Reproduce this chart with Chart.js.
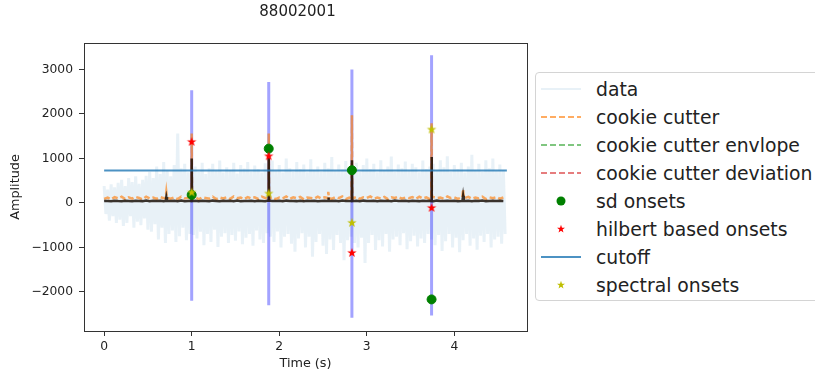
<!DOCTYPE html>
<html>
<head>
<meta charset="utf-8">
<script src="https://cdn.jsdelivr.net/npm/chart.js@4.4.1/dist/chart.umd.min.js"></script>
<style>
  html, body { margin: 0; padding: 0; background: #fff; }
  body { width: 815px; height: 379px; overflow: hidden; position: relative; font-family: 'DejaVu Sans', sans-serif; }
  #plot { position: absolute; left: 0; top: 0; }
  #legend { position: absolute; left: 535px; top: 72px; width: 300px; height: 229px; box-sizing: border-box;
            border: 1px solid #d4d4d4; border-radius: 4px; background: #fff; padding-top: 2px; }
  .item { height: 28px; display: flex; align-items: center; font-size: 18.8px; color: #222; white-space: nowrap; }
  .item svg { margin-left: 5px; margin-right: 15px; flex: none; }
</style>
</head>
<body>
<canvas id="plot" width="595" height="379"></canvas>
<div id="legend"></div>
<script>
// recording id and sampling of the envelope arrays below
const recordId = '88002001';
const gridStep = 0.04;

// upper / lower edge of the raw recording, one pair per grid step
const dataTop = [380, 300, 420, 350,
  450, 520, 380, 560, 470, 600, 430, 520, 610,
  700, 560, 820, 650, 920, 720, 600, 850, 1560, 780, 880, 690,
  760,
  820, 700, 900, 650, 780, 880, 720, 950, 680, 800, 740, 900, 660, 850, 770, 920, 700, 840, 760, 680, 890,
  800,
  950, 720, 850, 680, 1000, 780, 700, 920, 760, 860, 690, 980, 740, 820, 700, 900, 780, 1030, 720, 860, 750, 940, 680,
  800,
  900, 700, 850, 1000, 760, 880, 690, 960, 740, 820, 1040, 700, 860, 780, 930, 720, 880, 800, 690, 950, 760,
  820,
  880, 720, 960, 800, 1050, 700, 850, 760, 900, 680, 820, 1080, 740, 880, 700, 960, 780, 1000, 720, 860, 740];
const dataBottom = [-250, -400, -300, -450,
  -380, -520, -450, -300, -560, -420, -500, -350, -600,
  -650, -480, -820, -560, -900, -700, -620, -880, -750, -560, -840, -700,
  -720,
  -800, -650, -950, -700, -880, -600, -990, -760, -680, -900, -720, -850, -640, -930, -780, -700, -960, -620, -820, -900, -680,
  -760,
  -880, -640, -1000, -760, -700, -920, -1100, -800, -680, -1000, -760, -1210, -880, -700, -960, -1150, -820, -1060, -720, -900, -1290, -840, -760,
  -900,
  -1000, -780, -1350, -900, -720, -1060, -840, -980, -700, -1100, -820, -760, -950, -680, -1040, -860, -740, -980, -800, -900, -700,
  -820,
  -950, -720, -1080, -860, -700, -1000, -780, -1110, -840, -700, -960, -800, -1050, -740, -880, -700, -1000, -820, -760, -920, -700];

// cookie cutter output and rectified trace between the onsets
const cookieBase = [90, 120, 80, 130, 100, 140, 85, 125, 95, 135,
  110, 80, 140, 100, 120, 90, 130, 105, 115, 95,
  125, 85, 140, 100, 115, 90, 135, 80, 125, 110,
  95, 140, 85, 120, 100, 130, 90, 145, 105, 120,
  85, 130, 100, 125, 90, 140, 110, 95, 130, 85,
  120, 100, 145, 90, 125, 105, 135, 80, 120, 110,
  95, 140, 100, 125, 110, 90, 130, 105, 145, 85,
  120, 100, 135, 90, 125, 110, 145, 95, 120, 100,
  135, 85, 125, 110, 140, 95, 120, 105, 130, 90,
  140, 100, 125, 85, 130, 110, 120, 95, 145, 105,
  125, 90, 120, 110, 135, 95, 120, 100, 140, 85,
  125, 105, 130, 95, 120];
const traceBase = [40, 45, 35, 50, 42, 38, 48, 44, 36, 50,
  45, 40, 52, 38, 46, 42, 50, 36, 44, 44,
  48, 40, 52, 38, 45, 42, 50, 36, 47, 43,
  39, 51, 44, 37, 49, 42, 46, 40, 53, 38,
  45, 41, 50, 36, 48, 43, 39, 52, 44, 40,
  47, 38, 51, 43, 45, 40, 49, 37, 46, 42,
  50, 39, 44, 48, 45, 41, 46, 38, 52, 43,
  45, 40, 49, 37, 51, 44, 42, 47, 39, 50,
  43, 46, 38, 52, 41, 45, 48, 36, 50, 44,
  40, 49, 42, 47, 38, 51, 45, 41, 48, 43,
  46, 39, 44, 44, 50, 38, 47, 42, 52, 40,
  45, 48, 41, 46, 43];

// the four detected events
const onsetTimes = [1.0, 1.88, 2.83, 3.74];
const spikeTop = [2530, 2720, 3000, 3320];
const spikeBottom = [-2200, -2300, -2580, -2530];
const cookiePeaks = [1560, 1560, 1970, 1790];
const tracePeaks = [1000, 1030, 960, 1030];
const sdOnsets = [180, 1220, 735, -2170];
const hilbertOnsets = [1371, 1049, -1124, -112];
const spectralOnsets = [234, 211, -449, 1649];

// small bumps between the events
const bumpTimes = [0.71, 2.56, 4.1];
const cookieBumps = [250, 250, 310];
const traceBumps = [130, 120, 160];

const cutoffTimes = [0, 4.6];
const cutoffLevel = 728;

const xTicks = [0, 1, 2, 3, 4];
const yTicks = [-2000, -1000, 0, 1000, 2000, 3000];

const gridTimes = dataTop.map((_, i) => +(i * gridStep).toFixed(3));

// raw signal drawn as a zigzag between the upper and lower edge
const bandPoints = [];
gridTimes.forEach((t, i) => {
  bandPoints.push({ x: t, y: dataTop[i] }, { x: t + gridStep / 2, y: dataBottom[i] });
});

// base series with a narrow vertical peak at each given time
function withPeaks(base, groups) {
  const pts = gridTimes.map((t, i) => ({ x: t, y: base[i] }));
  groups.forEach(([times, peaks, half]) => {
    times.forEach((t, k) => {
      const near = base[Math.round(t / gridStep)];
      pts.push({ x: t - half, y: near }, { x: t, y: peaks[k] }, { x: t + half, y: near });
    });
  });
  return pts.sort((a, b) => a.x - b.x);
}

const spikePoints = [];
onsetTimes.forEach((t, k) => {
  spikePoints.push({ x: t, y: spikeTop[k] }, { x: t, y: spikeBottom[k] }, { x: t, y: null });
});

const markers = vals => onsetTimes.map((t, k) => ({ x: t, y: vals[k] }));

function starPath(cx, cy, R) {
  const pts = [];
  for (let k = 0; k < 10; k++) {
    const rad = k % 2 ? R * 0.4 : R;
    const a = -Math.PI / 2 + k * Math.PI / 5;
    pts.push([cx + rad * Math.cos(a), cy + rad * Math.sin(a)]);
  }
  return pts;
}

function starImage(color, R) {
  const c = document.createElement('canvas');
  const size = Math.ceil(R * 2) + 2;
  c.width = c.height = size;
  const g = c.getContext('2d');
  g.beginPath();
  starPath(size / 2, size / 2, R).forEach(([x, y]) => g.lineTo(x, y));
  g.closePath();
  g.fillStyle = color;
  g.fill();
  return c;
}

const dash = [6, 3];
const fmtY = v => (v < 0 ? '\u2212' + Math.abs(v) : String(v));

Chart.defaults.font.family = "'DejaVu Sans', sans-serif";
Chart.defaults.color = '#222';

const chart = new Chart(document.getElementById('plot'), {
  type: 'line',
  data: {
    datasets: [
      { label: 'data', data: bandPoints, borderColor: 'rgba(31,119,180,0.1)', borderWidth: 3, order: 10 },
      { label: 'cookie cutter',
        data: withPeaks(cookieBase, [[onsetTimes, cookiePeaks, 0.004], [bumpTimes, cookieBumps, 0.008]]),
        borderColor: 'rgba(255,127,14,0.65)', borderDash: dash, borderWidth: 2.5, order: 8 },
      { label: 'cookie cutter envlope', data: [], borderColor: 'rgba(44,160,44,0.6)', borderDash: dash, borderWidth: 2, order: 7 },
      { label: 'cookie cutter deviation', data: [], borderColor: 'rgba(214,39,40,0.6)', borderDash: dash, borderWidth: 2, order: 7 },
      { label: 'sd onsets', data: markers(sdOnsets), showLine: false, pointStyle: 'circle', pointRadius: 4.5,
        pointBackgroundColor: '#008000', pointBorderColor: '#008000', order: 3 },
      { label: 'hilbert based onsets', data: markers(hilbertOnsets), showLine: false, pointRadius: 5,
        pointStyle: starImage('#ff0000', 5), color: '#ff0000', order: 2 },
      { label: 'cutoff', data: cutoffTimes.map(t => ({ x: t, y: cutoffLevel })), borderColor: 'rgba(31,119,180,0.8)',
        borderWidth: 2, order: 4 },
      { label: 'spectral onsets', data: markers(spectralOnsets), showLine: false, pointRadius: 5,
        pointStyle: starImage('#bfbf00', 5), color: '#bfbf00', order: 1 },
      { label: '_raw', data: spikePoints, borderColor: 'rgba(0,0,255,0.36)', borderWidth: 3, order: 9 },
      { label: '_trace',
        data: withPeaks(traceBase, [[onsetTimes, tracePeaks, 0.004], [bumpTimes, traceBumps, 0.008]]),
        borderColor: 'rgba(20,8,0,0.82)', borderWidth: 2.5, order: 6 }
    ]
  },
  options: {
    responsive: false,
    animation: false,
    events: [],
    elements: { point: { radius: 0 }, line: { tension: 0 } },
    layout: { padding: 0 },
    plugins: {
      legend: { display: false },
      tooltip: { enabled: false },
      title: { display: true, text: recordId, color: '#222', font: { size: 15, weight: 'normal' },
               padding: { top: 3, bottom: 22 } }
    },
    scales: {
      x: {
        type: 'linear', position: 'bottom', min: -0.23, max: 4.83,
        afterBuildTicks: s => { s.ticks = xTicks.map(v => ({ value: v })); },
        afterFit: s => { s.height = 48; },
        grid: { display: true, drawOnChartArea: false, drawTicks: true, tickLength: 5, color: '#333' },
        border: { display: true, color: '#333', width: 1 },
        ticks: { padding: 3, maxRotation: 0, color: '#222', font: { size: 12.3 }, callback: v => String(v) },
        title: { display: true, text: 'Time (s)', color: '#222', font: { size: 12.8 }, padding: { top: 0, bottom: 8 } }
      },
      y: {
        type: 'linear', position: 'left', min: -2880, max: 3595,
        afterBuildTicks: s => { s.ticks = yTicks.map(v => ({ value: v })); },
        afterFit: s => { s.width = 84; },
        grid: { display: true, drawOnChartArea: false, drawTicks: true, tickLength: 5, color: '#333' },
        border: { display: true, color: '#333', width: 1 },
        ticks: { padding: 6, color: '#222', font: { size: 12.3 }, callback: fmtY },
        title: { display: true, text: 'Amplitude', color: '#222', font: { size: 12.8 }, padding: { top: 8, bottom: 0 } }
      },
      // top and right spines of the frame
      x2: {
        type: 'linear', position: 'top', display: true,
        grid: { display: false }, ticks: { display: false },
        border: { display: true, color: '#333', width: 1 },
        afterFit: s => { s.height = 0; }
      },
      y2: {
        type: 'linear', position: 'right', display: true,
        grid: { display: false }, ticks: { display: false },
        border: { display: true, color: '#333', width: 1 },
        afterFit: s => { s.width = 68; }
      }
    }
  }
});

// legend handles built from the dataset styles
function handleSvg(ds) {
  let body;
  if (ds.showLine === false) {
    if (ds.pointStyle === 'circle') {
      body = `<circle cx="20" cy="14" r="4.5" fill="${ds.pointBackgroundColor}"/>`;
    } else {
      const pts = starPath(20, 14, 4.2).map(p => p.join(',')).join(' ');
      body = `<polygon points="${pts}" fill="${ds.color}"/>`;
    }
  } else {
    const d = ds.borderDash ? `stroke-dasharray="${ds.borderDash.join(' ')}"` : '';
    body = `<line x1="0" y1="14" x2="40" y2="14" stroke="${ds.borderColor}" stroke-width="2" ${d}/>`;
  }
  return `<svg width="40" height="28">${body}</svg>`;
}

const legendEl = document.getElementById('legend');
chart.data.datasets.filter(ds => !ds.label.startsWith('_')).forEach(ds => {
  const row = document.createElement('div');
  row.className = 'item';
  row.innerHTML = handleSvg(ds) + '<span>' + ds.label + '</span>';
  legendEl.appendChild(row);
});
</script>
</body>
</html>
